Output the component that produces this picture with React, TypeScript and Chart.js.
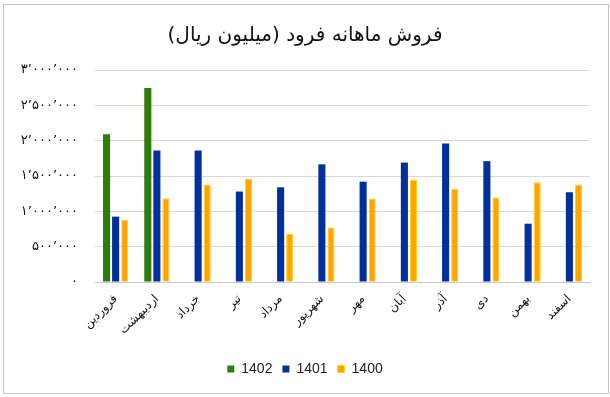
import React, { useEffect, useRef } from "react";
import { Chart, registerables } from "chart.js";

Chart.register(...registerables);

const months = [
  "فروردین",
  "اردیبهشت",
  "خرداد",
  "تیر",
  "مرداد",
  "شهریور",
  "مهر",
  "آبان",
  "آذر",
  "دی",
  "بهمن",
  "اسفند",
];

const sales1402: (number | null)[] = [2090000, 2745000, null, null, null, null, null, null, null, null, null, null];
const sales1401: number[] = [925000, 1860000, 1860000, 1280000, 1340000, 1665000, 1420000, 1690000, 1960000, 1710000, 825000, 1270000];
const sales1400: number[] = [880000, 1185000, 1380000, 1465000, 680000, 770000, 1180000, 1450000, 1320000, 1195000, 1410000, 1380000];

const seriesNames = ["1402", "1401", "1400"];
const yTicks = [0, 500000, 1000000, 1500000, 2000000, 2500000, 3000000];
const titleText = "فروش ماهانه فرود (میلیون ریال)";

const persianDigits = "۰۱۲۳۴۵۶۷۸۹";
function toPersian(v: number): string {
  const s = Math.round(v).toString();
  let out = "";
  for (let i = 0; i < s.length; i++) {
    const fromEnd = s.length - i;
    out += persianDigits[Number(s[i])];
    if (fromEnd > 1 && (fromEnd - 1) % 3 === 0) out += "٬";
  }
  return out;
}

export default function App() {
  const ref = useRef<HTMLCanvasElement | null>(null);
  useEffect(() => {
    document.body.style.margin = "0";
    const ctx = ref.current!;
    const chart = new Chart(ctx, {
      type: "bar",
      data: {
        labels: months,
        datasets: [
          { label: seriesNames[0], data: sales1402, backgroundColor: "#2E7D0A", borderColor: "#2E7D0A", borderWidth: 0 },
          { label: seriesNames[1], data: sales1401, backgroundColor: "#00309C", borderColor: "#00309C", borderWidth: 0 },
          { label: seriesNames[2], data: sales1400, backgroundColor: "#FFA500", borderColor: "#FFD21A", borderWidth: 1 },
        ],
      },
      options: {
        animation: false,
        responsive: false,
        maintainAspectRatio: false,
        layout: { padding: { left: 20, right: 20, top: 0, bottom: 11 } },
        datasets: { bar: { categoryPercentage: 0.66, barPercentage: 0.78 } },
        plugins: {
          title: {
            display: true,
            text: titleText,
            color: "#111",
            font: { family: "'DejaVu Sans', sans-serif", size: 20, weight: "normal" },
            padding: { top: 24, bottom: 22 },
          },
          legend: {
            position: "bottom",
            labels: {
              boxWidth: 7,
              boxHeight: 7,
              color: "#222",
              font: { family: "'Liberation Sans', Arial, sans-serif", size: 14 },
              padding: 10,
            },
          },
          tooltip: { enabled: false },
        },
        scales: {
          x: {
            grid: { display: false },
            border: { display: true, color: "#c8c8c8" },
            ticks: {
              autoSkip: false,
              maxRotation: 45,
              minRotation: 45,
              color: "#111",
              padding: 2,
              font: { family: "'DejaVu Sans', sans-serif", size: 12 },
            },
            afterFit: (s: any) => {
              s.height = 70;
            },
          },
          y: {
            min: 0,
            max: 3000000,
            afterBuildTicks: (s: any) => {
              s.ticks = yTicks.map((v) => ({ value: v }));
            },
            grid: { color: "#d9d9d9", drawTicks: false },
            border: { display: false },
            ticks: {
              padding: 17,
              color: "#111",
              font: { family: "'DejaVu Sans', sans-serif", size: 13 },
              callback: (v: any) => toPersian(Number(v)),
            },
            afterFit: (s: any) => {
              s.width = 75;
            },
          },
        },
      },
    });
    return () => chart.destroy();
  }, []);
  return (
    <div style={{ position: "fixed", left: 0, top: 0, width: 610, height: 397, background: "#fff" }}>
      <canvas ref={ref} width={610} height={397} style={{ position: "absolute", left: 0, top: 0 }} />
      <div
        style={{
          position: "absolute",
          left: 3,
          top: 4,
          width: 606,
          height: 390,
          border: "1px solid #c4c4c4",
          boxSizing: "border-box",
          pointerEvents: "none",
        }}
      />
    </div>
  );
}
